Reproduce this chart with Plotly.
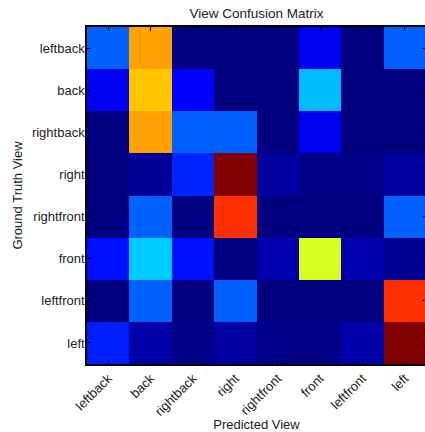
import plotly.graph_objects as go

# View labels (rows: ground truth, columns: prediction)
views = ["leftback", "back", "rightback", "right", "rightfront", "front", "leftfront", "left"]

# Confusion matrix, one list per ground-truth view
row_leftback = [0.22, 0.74, 0.00, 0.00, 0.00, 0.10, 0.00, 0.22]
row_back = [0.10, 0.70, 0.12, 0.00, 0.00, 0.31, 0.00, 0.00]
row_rightback = [0.00, 0.74, 0.22, 0.22, 0.00, 0.10, 0.00, 0.00]
row_right = [0.00, 0.022, 0.16, 1.00, 0.028, 0.008, 0.008, 0.028]
row_rightfront = [0.00, 0.22, 0.00, 0.86, 0.00, 0.00, 0.00, 0.22]
row_front = [0.14, 0.325, 0.14, 0.00, 0.041, 0.61, 0.041, 0.015]
row_leftfront = [0.00, 0.22, 0.00, 0.22, 0.00, 0.00, 0.00, 0.86]
row_left = [0.155, 0.035, 0.008, 0.028, 0.008, 0.008, 0.038, 1.00]

matrix = [row_leftback, row_back, row_rightback, row_right,
          row_rightfront, row_front, row_leftfront, row_left]

# Classic "jet" colormap built from its piecewise-linear segment definition
_seg = {
    "r": [(0, 0), (0.35, 0), (0.66, 1), (0.89, 1), (1, 0.5)],
    "g": [(0, 0), (0.125, 0), (0.375, 1), (0.64, 1), (0.91, 0), (1, 0)],
    "b": [(0, 0.5), (0.11, 1), (0.34, 1), (0.65, 0), (1, 0)],
}


def _interp(pts, x):
    for (x0, y0), (x1, y1) in zip(pts[:-1], pts[1:]):
        if x0 <= x <= x1:
            return y0 if x1 == x0 else y0 + (y1 - y0) * (x - x0) / (x1 - x0)
    return pts[-1][1]


_stops = sorted({p[0] for ch in _seg.values() for p in ch})
jet = []
for s in _stops:
    r, g, b = (round(255 * _interp(_seg[c], s)) for c in "rgb")
    jet.append([s, f"rgb({r},{g},{b})"])

FONT = "Liberation Sans, Arial, Helvetica, sans-serif"
TXT = "#222"

fig = go.Figure(
    go.Heatmap(
        z=matrix,
        x=views,
        y=views,
        colorscale=jet,
        zmin=0,
        zmax=1,
        showscale=False,
    )
)

axis_common = dict(
    showline=True,
    linecolor="black",
    linewidth=1.5,
    mirror="ticks",
    ticks="inside",
    ticklen=4,
    tickwidth=1,
    tickcolor="black",
    showgrid=False,
    zeroline=False,
    tickfont=dict(family=FONT, size=13, color=TXT),
)

fig.update_layout(
    width=428,
    height=432,
    margin=dict(l=87, r=0, t=27, b=64),
    paper_bgcolor="white",
    plot_bgcolor="white",
    font=dict(family=FONT, size=13, color=TXT),
    title=dict(
        text="View Confusion Matrix",
        x=0.5,
        xanchor="center",
        xref="paper",
        y=1 - 13 / 432,
        yanchor="middle",
        yref="container",
        font=dict(family=FONT, size=13.5, color=TXT),
    ),
    xaxis=dict(
        axis_common,
        tickangle=-45,
        title=dict(text="Predicted View", standoff=4, font=dict(family=FONT, size=13, color=TXT)),
    ),
    yaxis=dict(
        axis_common,
        autorange="reversed",
        ticklabelstandoff=-2,
        title=dict(text="Ground Truth View", standoff=6, font=dict(family=FONT, size=13, color=TXT)),
    ),
)

fig.write_html(
    "out.html",
    post_script="document.documentElement.style.overflow='hidden';document.body.style.overflow='hidden';document.body.style.margin='0';",
)
